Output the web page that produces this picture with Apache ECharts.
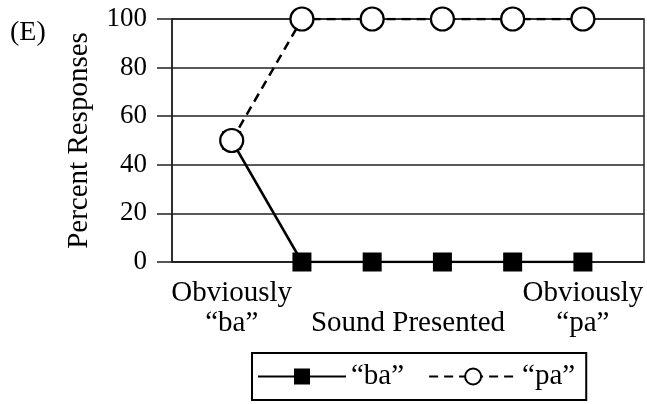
<!DOCTYPE html>
<html><head><meta charset="utf-8">
<script src="https://cdn.jsdelivr.net/npm/echarts@6/dist/echarts.min.js"></script>
<style>html,body{margin:0;padding:0;background:#fff}#c{width:647px;height:404px}</style>
</head><body><div id="c"></div>
<script>
const xPositions = [1, 2, 3, 4, 5, 6];
const baValues = [50, 0, 0, 0, 0, 0];
const paValues = [50, 100, 100, 100, 100, 100];
const xLabelValues = [1, 6];
const xLabelTexts = ['Obviously\n\u201cba\u201d', 'Obviously\n\u201cpa\u201d'];
const seriesNames = ['\u201cba\u201d', '\u201cpa\u201d'];
const panelTag = '(E)';
const yName = 'Percent Responses';
const xName = 'Sound Presented';

const FONT = 'Liberation Serif';
const FS = 29;
const chart = echarts.init(document.getElementById('c'));
chart.setOption({
  animation: false,
  backgroundColor: '#fff',
  textStyle: { fontFamily: FONT, color: '#000' },
  title: { text: panelTag, left: 5, top: 14, textStyle: { fontFamily: FONT, fontSize: 28, fontWeight: 'normal', color: '#000' } },
  grid: { left: 172, right: 3, top: 19, bottom: 142, show: true, borderColor: '#222', borderWidth: 1.5, containLabel: false },
  xAxis: {
    type: 'value', min: 0.15, max: 6.87,
    name: xName, nameLocation: 'middle', nameGap: 47, nameMoveOverlap: false,
    nameTextStyle: { fontFamily: FONT, fontSize: FS, color: '#000' },
    axisLine: { show: true, lineStyle: { color: '#222', width: 2 } },
    axisTick: { show: false },
    splitLine: { show: false },
    axisLabel: {
      customValues: xLabelValues,
      formatter: v => xLabelTexts[xLabelValues.indexOf(v)] || '',
      fontFamily: FONT, fontSize: FS, color: '#000', lineHeight: 30, margin: 16
    }
  },
  yAxis: {
    type: 'value', min: 0, max: 100, interval: 20,
    name: yName, nameLocation: 'middle', nameGap: 78, nameRotate: 90, nameMoveOverlap: false,
    nameTextStyle: { fontFamily: FONT, fontSize: FS, color: '#000' },
    axisLine: { show: true, lineStyle: { color: '#222', width: 1.5 } },
    axisTick: { show: true, length: 15, lineStyle: { color: '#222', width: 1.5 } },
    splitLine: { show: true, lineStyle: { color: '#222', width: 1.5 } },
    axisLabel: { fontFamily: FONT, fontSize: 27, color: '#000', margin: 25 }
  },
  legend: {
    data: seriesNames,
    left: 252, bottom: 4,
    itemWidth: 88, itemHeight: 20, itemGap: 24,
    padding: [9, 11, 9, 5],
    borderColor: '#000', borderWidth: 2,
    textStyle: { fontFamily: FONT, fontSize: FS, color: '#000' }
  },
  series: [
    {
      name: seriesNames[0], type: 'line',
      data: xPositions.map((x, i) => [x, baValues[i]]),
      symbol: 'rect', symbolSize: 19,
      itemStyle: { color: '#000' },
      lineStyle: { color: '#000', width: 2.5 }
    },
    {
      name: seriesNames[1], type: 'line',
      data: xPositions.map((x, i) => [x, paValues[i]]),
      symbol: 'circle', symbolSize: 23,
      itemStyle: { color: '#fff', borderColor: '#000', borderWidth: 2.2 },
      lineStyle: { color: '#000', width: 2.5, type: [9, 6] }
    }
  ]
});
</script></body></html>
